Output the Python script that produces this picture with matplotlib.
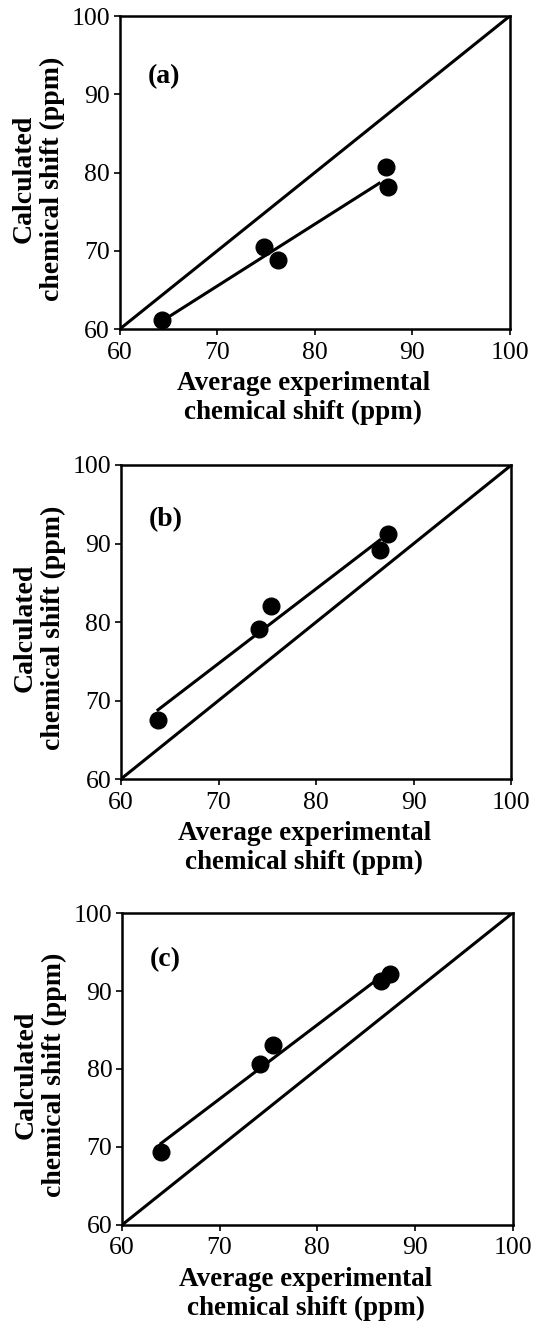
import numpy as np
import matplotlib; matplotlib.use('Agg')
import matplotlib.pyplot as plt

# Average experimental vs calculated chemical shifts (ppm)
exp_a = [64.3, 74.8, 76.2, 87.3, 87.5]
calc_a = [61.1, 70.5, 68.8, 80.7, 78.1]
exp_b = [63.8, 74.1, 75.4, 86.5, 87.4]
calc_b = [67.5, 79.1, 82.0, 89.2, 91.2]
exp_c = [64.0, 74.1, 75.5, 86.5, 87.5]
calc_c = [69.3, 80.6, 83.1, 91.3, 92.2]
panel_tags = ['(a)', '(b)', '(c)']
ticks = [60, 70, 80, 90, 100]

plt.rcParams.update({
    'font.family': ['Liberation Serif', 'DejaVu Serif'],
    'font.size': 18.5,
    'xtick.labelsize': 18.5, 'ytick.labelsize': 18.5,
    'axes.linewidth': 1.8,
})

fig = plt.figure(figsize=(5.35, 13.24), dpi=100)
fig.patch.set_facecolor('white')

# axes boxes in figure fractions (left, bottom, width, height)
boxes = [
    (0.224, 0.7515, 0.729, 0.2364),
    (0.226, 0.4116, 0.730, 0.2372),
    (0.228, 0.0748, 0.730, 0.2356),
]
tag_y = [0.805, 0.825, 0.85]

data = [(exp_a, calc_a), (exp_b, calc_b), (exp_c, calc_c)]
for i, (xs, ys) in enumerate(data):
    ax = fig.add_axes(boxes[i])
    xs = np.array(xs); ys = np.array(ys)
    # y = x reference line
    ax.plot([60, 100], [60, 100], color='black', lw=2.2, zorder=2)
    # least-squares fit over the data range
    k, b = np.polyfit(xs, ys, 1)
    xf = np.array([xs.min(), xs.max() - 0.9])
    ax.plot(xf, k * xf + b, color='black', lw=2.2, zorder=2)
    ax.plot(xs, ys, 'o', color='black', ms=12, zorder=3)
    ax.set_xlim(60, 100); ax.set_ylim(60, 100)
    ax.set_xticks(ticks); ax.set_yticks(ticks)
    ax.tick_params(direction='out', length=4, width=1.2, pad=3)
    ax.tick_params(axis='x', pad=5)
    ax.text(0.072, tag_y[i], panel_tags[i], transform=ax.transAxes,
            fontsize=20, fontweight='bold', va='center', ha='left')
    ax.set_xlabel('Average experimental\nchemical shift (ppm)', fontsize=19.5,
                  fontweight='bold', linespacing=1.2)
    ax.xaxis.set_label_coords(0.47, -0.135)
    ax.set_ylabel('Calculated\nchemical shift (ppm)', fontsize=20,
                  fontweight='bold', linespacing=1.2)
    ax.yaxis.set_label_coords(-0.14, 0.48)

fig.savefig('out.png', dpi=100, facecolor='white')
plt.close(fig)
